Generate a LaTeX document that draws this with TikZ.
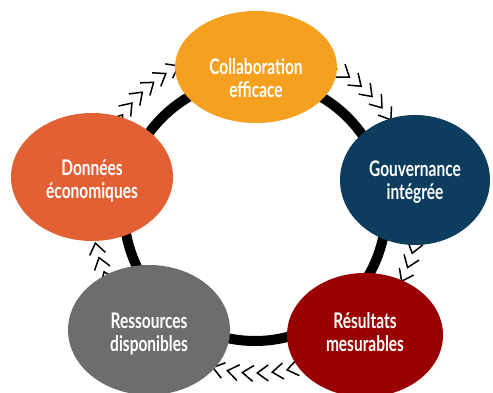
\documentclass[tikz,border=0pt]{standalone}
\usepackage{fontspec}
\setmainfont{Lato}[FakeStretch=0.72]
\usetikzlibrary{shapes.geometric,decorations.markings,arrows.meta}
\definecolor{corange}{HTML}{F5A01E}
\definecolor{cblue}{HTML}{0D3D5E}
\definecolor{cred}{HTML}{9A0000}
\definecolor{cgray}{HTML}{6D6D6D}
\definecolor{cdon}{HTML}{E35F34}
\begin{document}
\begin{tikzpicture}[x=1pt,y=-1pt,
  bubble/.style={ellipse, inner sep=0pt},
  label text/.style={text=white, align=center, inner sep=0pt,
    font=\fontsize{21.5}{23}\selectfont\bfseries},
  ring/.style={line width=10pt, black},
  chevrons/.style={decorate, decoration={markings,
    mark=between positions 0 and 1 step 15pt with
    {\arrow[black,line width=1.5pt]{Straight Barb[length=11pt,width=16pt]}}}}
]
\useasboundingbox (0,0) rectangle (493,393);
\coordinate (c) at (255,210);
\draw[ring] (c) circle[radius=131pt];
\path[chevrons] (c) ++(163pt,0) arc[start angle=0, end angle=-360, radius=163pt];
\node[bubble, fill=corange, minimum width=162pt, minimum height=112pt] (collab) at (256,67) {};
\node[bubble, fill=cblue, minimum width=150pt, minimum height=130pt] (gouv) at (415,180) {};
\node[bubble, fill=cred, minimum width=156pt, minimum height=124pt] (result) at (365,335) {};
\node[bubble, fill=cgray, minimum width=162pt, minimum height=130pt] (ress) at (149,330) {};
\node[bubble, fill=cdon, minimum width=162pt, minimum height=128pt] (donn) at (92,177) {};
\node[label text] (collabt) at (256,78) {Collaboration\\efficace};
\node[label text] (gouvt) at (415,182) {Gouvernance\\intégrée};
\node[label text] (resultt) at (365,332) {Résultats\\mesurables};
\node[label text] (resst) at (149,334) {Ressources\\disponibles};
\node[label text] (donnt) at (92,181) {Données\\économiques};
\end{tikzpicture}
\end{document}
